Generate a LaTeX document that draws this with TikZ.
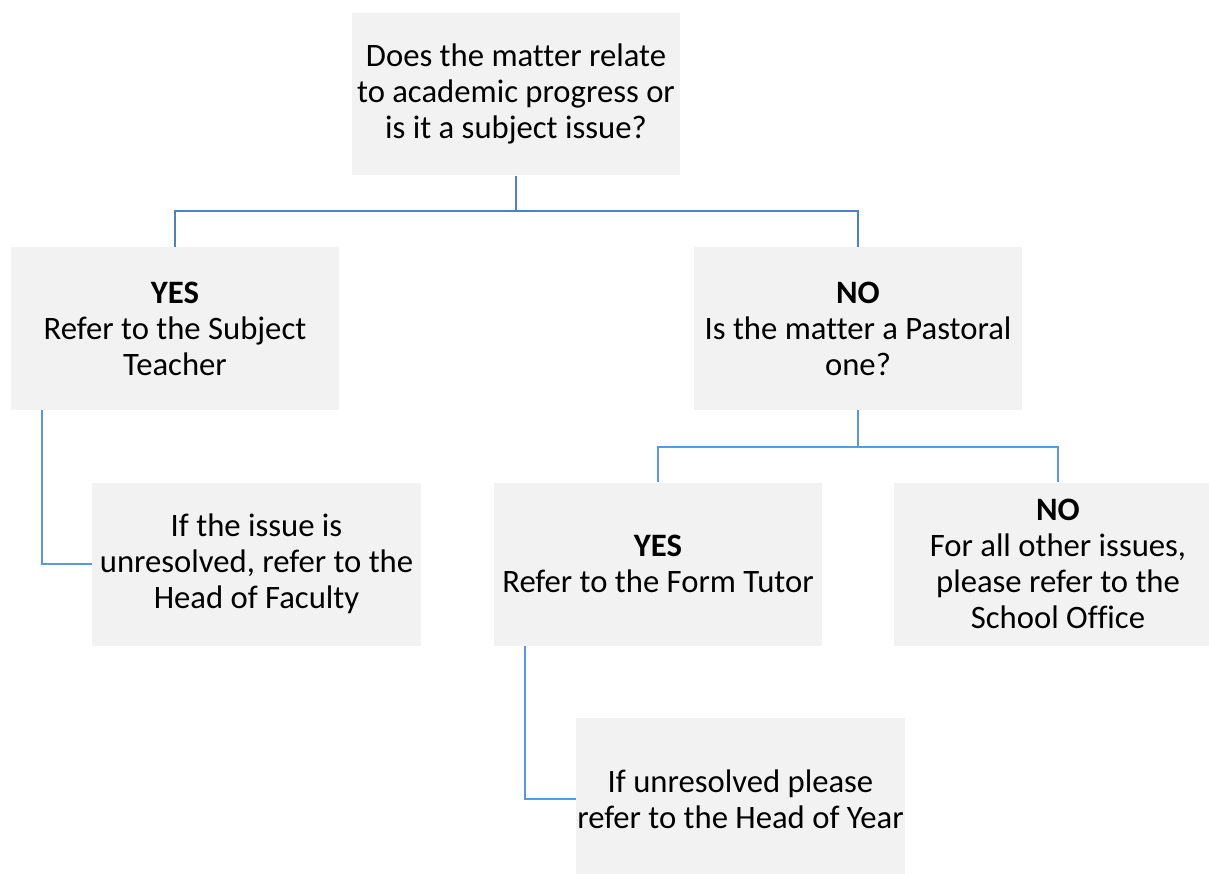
\documentclass[tikz,border=0pt]{standalone}
\usepackage{fontspec}
\setmainfont{Carlito}[Ligatures=NoCommon]
\definecolor{boxgray}{HTML}{F2F2F2}
\definecolor{lineblue}{HTML}{5B9BD5}
\definecolor{topblue}{HTML}{4F81BD}
\begin{document}
\begin{tikzpicture}
			[x=0.02cm, y=-0.02cm,
			box/.style={fill=boxgray, align=center, minimum width=6.58cm, minimum height=3.26cm, inner sep=0pt, font=\fontsize{18.6}{20.5}\selectfont},
			conn/.style={draw=lineblue, line width=1pt}]
			\useasboundingbox (0,0) rectangle (1209,873);
			\node[box] (q1) at (516,94) {Does the matter relate\\to academic progress or\\is it a subject issue?};
			\node[box] (yes1) at (175,328.5) {\textbf{YES}\\Refer to the Subject\\Teacher};
			\node[box] (no1) at (858,328.5) {\textbf{NO}\\Is the matter a Pastoral\\one?};
			\node[box] (faculty) at (256.5,564) {If the issue is\\unresolved, refer to the\\Head of Faculty};
			\node[box] (yes2) at (658,564) {\textbf{YES}\\Refer to the Form Tutor};
			\node[box] (no2) at (1058,564) {\textbf{NO}\\For all other issues,\\please refer to the\\School Office};
			\node[box] (year) at (740.5,799) {If unresolved please\\refer to the Head of Year};
			\draw[conn, draw=topblue] (q1.south) -- ++(0,35) -| (yes1.north);
			\draw[conn, draw=topblue] (q1.south) -- ++(0,35) -| (no1.north);
			\draw[conn] ([xshift=0.64cm]yes1.south west) |- (faculty.west);
			\draw[conn] (no1.south) -- ++(0,37) -| (yes2.north);
			\draw[conn] (no1.south) -- ++(0,37) -| (no2.north);
			\draw[conn] ([xshift=0.64cm]yes2.south west) |- (year.west);
\end{tikzpicture}
\end{document}
